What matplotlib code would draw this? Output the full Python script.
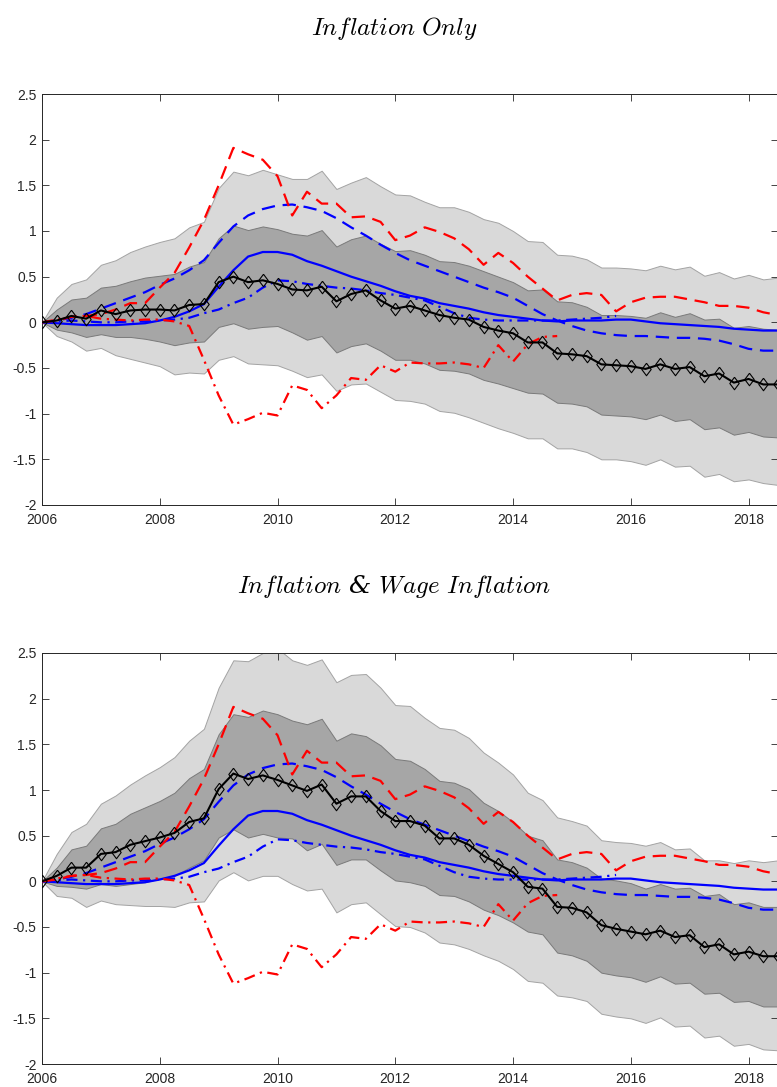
import numpy as np
import matplotlib.pyplot as plt

plt.rcParams['axes.unicode_minus'] = False
plt.rcParams['mathtext.fontset'] = 'cm'

# quarterly dates 2006Q1 .. 2018Q3
fechas = 2006 + 0.25 * np.arange(51)

# --- Inflation only (top) ---
top_mediana = [0, 0.02, 0.07, 0.04, 0.13, 0.09, 0.13, 0.14, 0.14, 0.13,
               0.19, 0.20, 0.44, 0.50, 0.44, 0.46, 0.42, 0.36, 0.35, 0.39,
               0.23, 0.31, 0.35, 0.24, 0.15, 0.18, 0.13, 0.08, 0.05, 0.03,
               -0.05, -0.09, -0.12, -0.22, -0.22, -0.34, -0.35, -0.37, -0.46, -0.47,
               -0.48, -0.51, -0.46, -0.51, -0.49, -0.59, -0.56, -0.66, -0.62, -0.68, -0.68]
top_claro_sup = [0, 0.27, 0.42, 0.47, 0.63, 0.68, 0.77, 0.83, 0.88, 0.92,
                 1.04, 1.10, 1.47, 1.65, 1.61, 1.67, 1.62, 1.57, 1.57, 1.66,
                 1.46, 1.53, 1.59, 1.49, 1.40, 1.39, 1.32, 1.26, 1.26, 1.21,
                 1.13, 1.09, 1.00, 0.89, 0.88, 0.74, 0.73, 0.69, 0.60, 0.60,
                 0.59, 0.57, 0.62, 0.58, 0.61, 0.51, 0.55, 0.48, 0.52, 0.47, 0.49]
top_claro_inf = [0, -0.15, -0.21, -0.31, -0.28, -0.36, -0.40, -0.44, -0.48, -0.57,
                 -0.55, -0.56, -0.41, -0.37, -0.45, -0.46, -0.47, -0.53, -0.60, -0.57,
                 -0.75, -0.68, -0.67, -0.76, -0.85, -0.86, -0.89, -0.97, -0.99, -1.04,
                 -1.10, -1.16, -1.21, -1.27, -1.27, -1.38, -1.38, -1.42, -1.50, -1.50,
                 -1.52, -1.56, -1.50, -1.58, -1.57, -1.69, -1.66, -1.74, -1.72, -1.76, -1.78]
top_oscuro_sup = [0, 0.14, 0.25, 0.27, 0.38, 0.40, 0.45, 0.49, 0.51, 0.53,
                  0.61, 0.66, 0.92, 1.06, 1.01, 1.05, 1.02, 0.97, 0.95, 1.01,
                  0.83, 0.91, 0.95, 0.86, 0.78, 0.79, 0.74, 0.67, 0.66, 0.62,
                  0.56, 0.50, 0.44, 0.35, 0.36, 0.23, 0.22, 0.17, 0.08, 0.08,
                  0.07, 0.05, 0.11, 0.06, 0.10, 0.03, 0.04, -0.06, -0.04, -0.07, -0.08]
top_oscuro_inf = [0, -0.08, -0.11, -0.16, -0.13, -0.16, -0.16, -0.18, -0.21, -0.25,
                  -0.22, -0.21, -0.05, -0.01, -0.07, -0.05, -0.04, -0.11, -0.19, -0.15,
                  -0.33, -0.26, -0.23, -0.31, -0.41, -0.41, -0.45, -0.52, -0.53, -0.56,
                  -0.63, -0.67, -0.72, -0.77, -0.78, -0.88, -0.89, -0.92, -1.01, -1.02,
                  -1.03, -1.06, -1.01, -1.08, -1.06, -1.17, -1.15, -1.23, -1.20, -1.25, -1.26]

# --- Inflation & wage inflation (bottom) ---
bot_mediana = [0, 0.06, 0.15, 0.15, 0.30, 0.32, 0.40, 0.44, 0.48, 0.53,
               0.65, 0.69, 1.01, 1.18, 1.12, 1.16, 1.11, 1.05, 0.99, 1.06,
               0.85, 0.93, 0.93, 0.77, 0.66, 0.66, 0.61, 0.47, 0.47, 0.40,
               0.28, 0.19, 0.10, -0.06, -0.08, -0.28, -0.29, -0.34, -0.48, -0.52,
               -0.55, -0.58, -0.54, -0.61, -0.59, -0.72, -0.69, -0.80, -0.77, -0.82, -0.82]
bot_claro_sup = [0, 0.30, 0.54, 0.63, 0.85, 0.94, 1.06, 1.16, 1.25, 1.36,
                 1.54, 1.67, 2.12, 2.42, 2.41, 2.50, 2.55, 2.42, 2.37, 2.43,
                 2.18, 2.26, 2.27, 2.12, 1.93, 1.92, 1.79, 1.68, 1.66, 1.57,
                 1.41, 1.30, 1.17, 0.97, 0.89, 0.70, 0.66, 0.61, 0.45, 0.43,
                 0.42, 0.39, 0.43, 0.35, 0.36, 0.23, 0.23, 0.20, 0.23, 0.21, 0.23]
bot_claro_inf = [0, -0.16, -0.18, -0.28, -0.21, -0.25, -0.26, -0.27, -0.27, -0.28,
                 -0.23, -0.22, 0.01, 0.10, 0.01, 0.06, 0.06, -0.03, -0.10, -0.08,
                 -0.34, -0.25, -0.23, -0.36, -0.49, -0.50, -0.56, -0.67, -0.69, -0.74,
                 -0.81, -0.87, -0.96, -1.09, -1.11, -1.25, -1.27, -1.31, -1.45, -1.48,
                 -1.50, -1.55, -1.49, -1.59, -1.58, -1.71, -1.69, -1.80, -1.78, -1.84, -1.85]
bot_oscuro_sup = [0, 0.15, 0.35, 0.39, 0.58, 0.63, 0.74, 0.81, 0.88, 0.97,
                  1.13, 1.23, 1.61, 1.83, 1.80, 1.87, 1.83, 1.76, 1.72, 1.78,
                  1.54, 1.62, 1.59, 1.49, 1.34, 1.32, 1.23, 1.10, 1.08, 1.01,
                  0.86, 0.77, 0.65, 0.50, 0.45, 0.24, 0.21, 0.15, 0.03, 0.01,
                  -0.02, -0.08, -0.03, -0.08, -0.07, -0.16, -0.14, -0.25, -0.23, -0.28, -0.28]
bot_oscuro_inf = [0, -0.05, -0.06, -0.08, -0.03, -0.05, -0.03, -0.01, 0.03, 0.06,
                  0.15, 0.23, 0.48, 0.57, 0.48, 0.52, 0.48, 0.47, 0.34, 0.41,
                  0.18, 0.24, 0.24, 0.12, 0.01, -0.01, -0.05, -0.15, -0.16, -0.22,
                  -0.31, -0.37, -0.45, -0.55, -0.58, -0.78, -0.81, -0.87, -1.00, -1.03,
                  -1.05, -1.10, -1.04, -1.12, -1.11, -1.23, -1.22, -1.32, -1.31, -1.37, -1.37]

# --- comparison lines (same in both panels) ---
azul_solida = [0, -0.01, -0.02, -0.03, -0.03, -0.03, -0.02, -0.01, 0.02, 0.06,
               0.12, 0.20, 0.39, 0.57, 0.72, 0.77, 0.77, 0.74, 0.67, 0.62,
               0.56, 0.50, 0.45, 0.40, 0.34, 0.29, 0.26, 0.21, 0.18, 0.15,
               0.11, 0.08, 0.06, 0.04, 0.02, 0.01, 0.02, 0.02, 0.02, 0.03,
               0.03, 0.01, -0.01, -0.02, -0.03, -0.04, -0.05, -0.07, -0.08, -0.09, -0.09]
azul_guiones = [0, 0.02, 0.05, 0.09, 0.15, 0.21, 0.27, 0.33, 0.41, 0.48,
                0.57, 0.68, 0.87, 1.05, 1.17, 1.24, 1.28, 1.29, 1.26, 1.22,
                1.14, 1.04, 0.95, 0.85, 0.76, 0.68, 0.62, 0.56, 0.50, 0.44,
                0.38, 0.33, 0.27, 0.18, 0.09, 0.02, -0.04, -0.09, -0.12, -0.14,
                -0.15, -0.15, -0.16, -0.17, -0.17, -0.18, -0.20, -0.24, -0.29, -0.31, -0.31]
azul_punto = [0, 0.01, 0.02, 0.01, 0.00, 0.00, 0.01, 0.01, 0.02, 0.03,
              0.05, 0.10, 0.14, 0.21, 0.27, 0.38, 0.46, 0.45, 0.42, 0.40,
              0.38, 0.37, 0.35, 0.32, 0.30, 0.27, 0.24, 0.17, 0.10, 0.05,
              0.03, 0.02, 0.02, 0.02, 0.02, 0.02, 0.03, 0.04, 0.05, 0.07]
rojo_guiones = [0, 0.02, 0.06, 0.07, 0.09, 0.14, 0.21, 0.21, 0.38, 0.54,
                0.82, 1.12, 1.50, 1.91, 1.84, 1.78, 1.60, 1.17, 1.43, 1.30,
                1.30, 1.15, 1.16, 1.10, 0.90, 0.95, 1.04, 0.99, 0.92, 0.80,
                0.63, 0.76, 0.65, 0.50, 0.37, 0.24, 0.30, 0.32, 0.30, 0.12,
                0.22, 0.27, 0.28, 0.28, 0.25, 0.22, 0.18, 0.18, 0.16, 0.11, 0.08]
rojo_punto = [0, 0.03, 0.06, 0.07, 0.04, 0.03, 0.02, 0.03, 0.03, 0.01,
              -0.04, -0.41, -0.80, -1.12, -1.06, -0.99, -1.02, -0.69, -0.74, -0.94,
              -0.80, -0.61, -0.63, -0.47, -0.54, -0.44, -0.45, -0.45, -0.44, -0.46,
              -0.50, -0.25, -0.43, -0.24, -0.16, -0.15]

paneles = [
    (r"$\mathit{Inflation\ Only}$", top_mediana, top_claro_inf, top_claro_sup,
     top_oscuro_inf, top_oscuro_sup),
    (r"$\mathit{Inflation}$ & $\mathit{Wage\ Inflation}$", bot_mediana, bot_claro_inf, bot_claro_sup,
     bot_oscuro_inf, bot_oscuro_sup),
]

# MATLAB-like diamond, a bit narrower than tall
rombo = [(0, 1), (0.75, 0), (0, -1), (-0.75, 0), (0, 1)]

W, H = 777, 1087
fig = plt.figure(figsize=(W / 100, H / 100), dpi=100)

posiciones = [(94, 505), (653, 1064)]   # pixel top/bottom of each axes
titulos_y = [28, 586]

gris = '#262626'
for (titulo, med, cl_inf, cl_sup, os_inf, os_sup), (ptop, pbot), ty in zip(paneles, posiciones, titulos_y):
    ax = fig.add_axes([42 / W, 1 - pbot / H, (778 - 42) / W, (pbot - ptop) / H])

    ax.fill_between(fechas, cl_inf, cl_sup, facecolor='#d9d9d9', edgecolor='#a3a3a3', linewidth=0.7, zorder=1)
    ax.fill_between(fechas, os_inf, os_sup, facecolor='#a6a6a6', edgecolor='#7a7a7a', linewidth=0.7, zorder=2)

    ax.plot(fechas, azul_solida, color='#0000ff', lw=1.6, zorder=3)
    ax.plot(fechas, azul_guiones, color='#0000ff', lw=1.6, dashes=(6, 3.5), zorder=3)
    ax.plot(fechas[:len(azul_punto)], azul_punto, color='#0000ff', lw=1.6, dashes=(5, 2.5, 1, 2.5), zorder=3)
    ax.plot(fechas, rojo_guiones, color='#ff0000', lw=1.6, dashes=(6, 3.5), zorder=3)
    ax.plot(fechas[:len(rojo_punto)], rojo_punto, color='#ff0000', lw=1.6, dashes=(5, 2.5, 1, 2.5), zorder=3)

    ax.plot(fechas, med, color='black', lw=1.5, marker=rombo, markersize=9,
            markerfacecolor='none', markeredgecolor='black', markeredgewidth=0.8, zorder=4)

    ax.set_xlim(2006, 2018.5)
    ax.set_ylim(-2, 2.5)
    ax.set_xticks(np.arange(2006, 2019, 2))
    ax.set_yticks(np.arange(-2, 2.51, 0.5))
    ax.set_yticklabels(['-2', '-1.5', '-1', '-0.5', '0', '0.5', '1', '1.5', '2', '2.5'])
    ax.tick_params(direction='in', top=True, right=True, length=5, width=0.6,
                   color=gris, labelcolor=gris, labelsize=10)
    ax.tick_params(axis='x', pad=6)
    ax.tick_params(axis='y', pad=4)
    for lado in ax.spines.values():
        lado.set_color(gris)
        lado.set_linewidth(0.7)
    for lab in ax.get_xticklabels() + ax.get_yticklabels():
        lab.set_fontfamily('Liberation Sans')

    fig.text(394.5 / W, 1 - ty / H, titulo, ha='center', va='center', fontsize=18,
             family='DejaVu Serif', style='italic')

fig.savefig('out.png', dpi=100)
